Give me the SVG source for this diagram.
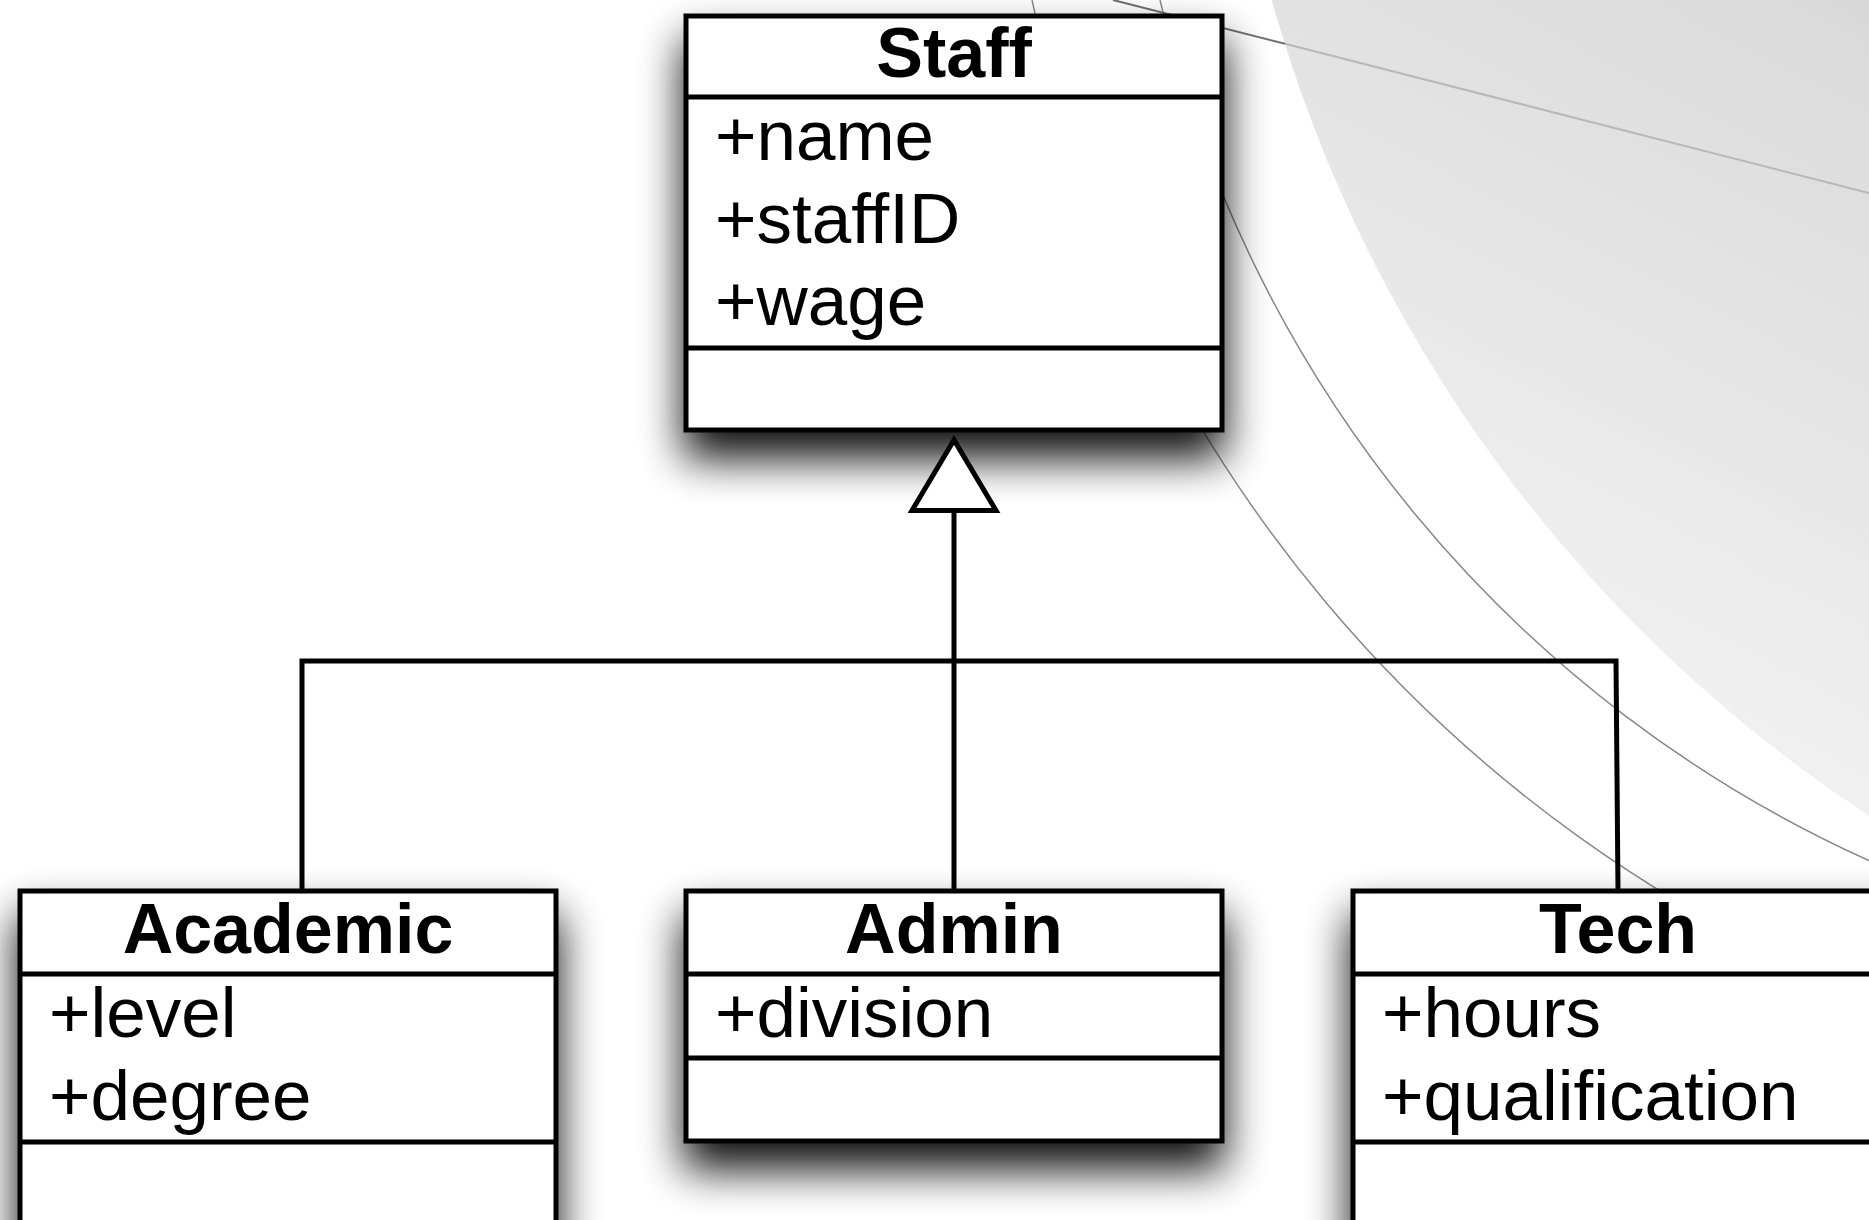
<svg xmlns="http://www.w3.org/2000/svg" width="1869" height="1220" viewBox="0 0 1869 1220">
  <defs>
    <linearGradient id="bgShade" gradientUnits="userSpaceOnUse" x1="1450" y1="820" x2="1869" y2="0">
      <stop offset="0" stop-color="#f7f7f7"/>
      <stop offset="1" stop-color="#d9d9d9"/>
    </linearGradient>
    <!-- soft drop shadow under each class box -->
    <filter id="shadow" filterUnits="userSpaceOnUse" x="-200" y="-200" width="2400" height="1700">
      <feGaussianBlur in="SourceAlpha" stdDeviation="22" result="blur"/>
      <feOffset in="blur" dx="0" dy="26" result="off"/>
      <feComponentTransfer in="off" result="shade">
        <feFuncA type="linear" slope="0.95"/>
      </feComponentTransfer>
      <feMerge>
        <feMergeNode in="shade"/>
        <feMergeNode in="SourceGraphic"/>
      </feMerge>
    </filter>
    <style>
      .box { fill: #fff; stroke: #000; stroke-width: 5; stroke-linejoin: miter; }
      .div { stroke: #000; stroke-width: 5; }
      .title { font-family: "Liberation Sans", Arial, Helvetica, sans-serif; font-weight: bold; font-size: 70px; text-anchor: middle; fill: #000; }
      .attr { font-family: "Liberation Sans", Arial, Helvetica, sans-serif; font-size: 71px; fill: #000; }
      .conn { stroke: #000; stroke-width: 5; fill: none; }
      .head { stroke: #000; stroke-width: 5; fill: #fff; stroke-linejoin: miter; }
      .deco { stroke: #888; stroke-width: 1.5; fill: none; }
    </style>
  </defs>

  <!-- page backdrop -->
  <rect x="0" y="0" width="1869" height="1220" fill="#fff"/>
  <g id="backdrop">
    <circle cx="2660" cy="-390" r="1442" fill="url(#bgShade)"/>
    <path class="deco" d="M 1160 0 A 1260 1260 0 0 0 1869 860.6"/>
    <path class="deco" d="M 1032 0 A 1385 1385 0 0 0 1869 996.5"/>
    <line x1="1113" y1="0" x2="1285" y2="43.8" stroke="#707070" stroke-width="2"/>
    <line x1="1285" y1="43.8" x2="1869" y2="193" stroke="#b8b8b8" stroke-width="2"/>
  </g>

  <!-- class boxes -->
  <g id="staff" class="node">
    <rect class="box" x="686" y="16" width="536" height="414" filter="url(#shadow)"/>
    <line class="div" x1="686" y1="97" x2="1222" y2="97"/>
    <line class="div" x1="686" y1="348" x2="1222" y2="348"/>
    <text class="title" x="954" y="77">Staff</text>
    <text class="attr" x="715" y="160">+name</text>
    <text class="attr" x="715" y="243">+staffID</text>
    <text class="attr" x="715" y="325">+wage</text>
  </g>

  <g id="academic" class="node">
    <rect class="box" x="20" y="891" width="536" height="400" filter="url(#shadow)"/>
    <line class="div" x1="20" y1="974" x2="556" y2="974"/>
    <line class="div" x1="20" y1="1142" x2="556" y2="1142"/>
    <text class="title" x="288" y="953">Academic</text>
    <text class="attr" x="49" y="1037">+level</text>
    <text class="attr" x="49" y="1120">+degree</text>
  </g>

  <g id="admin" class="node">
    <rect class="box" x="686" y="891" width="536" height="250" filter="url(#shadow)"/>
    <line class="div" x1="686" y1="974" x2="1222" y2="974"/>
    <line class="div" x1="686" y1="1058" x2="1222" y2="1058"/>
    <text class="title" x="954" y="953">Admin</text>
    <text class="attr" x="715" y="1037">+division</text>
  </g>

  <g id="tech" class="node">
    <rect class="box" x="1353" y="891" width="600" height="400" filter="url(#shadow)"/>
    <line class="div" x1="1353" y1="974" x2="1953" y2="974"/>
    <line class="div" x1="1353" y1="1142" x2="1953" y2="1142"/>
    <text class="title" x="1618" y="953">Tech</text>
    <text class="attr" x="1382" y="1037">+hours</text>
    <text class="attr" x="1382" y="1120">+qualification</text>
  </g>

  <!-- generalisation connectors -->
  <g id="connectors">
    <polyline class="conn" points="302,891 302,661 1616,661 1618,891"/>
    <line class="conn" x1="954" y1="510" x2="954" y2="891"/>
    <polygon class="head" points="954,440 912,510.5 996,510.5"/>
  </g>
</svg>
